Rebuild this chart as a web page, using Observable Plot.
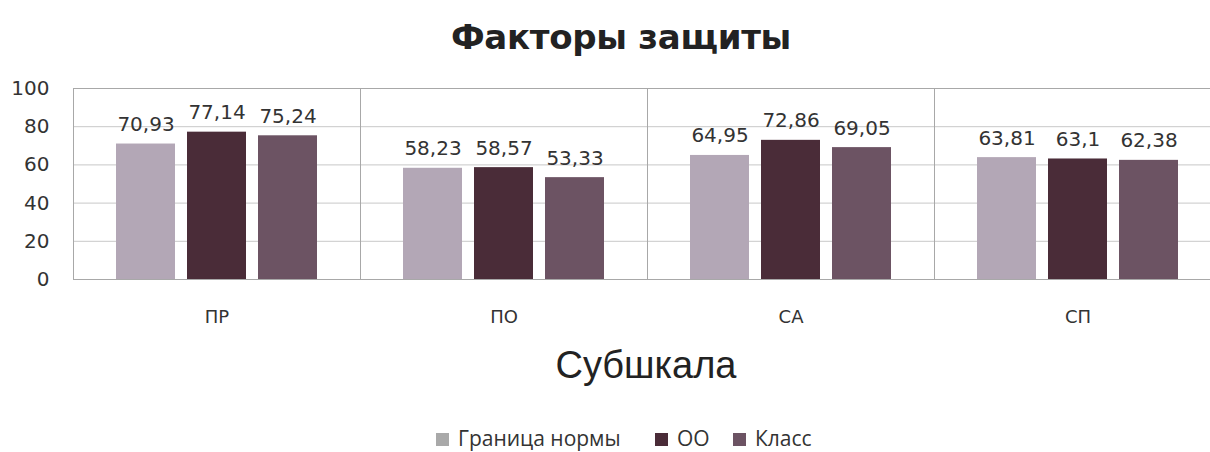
<!DOCTYPE html>
<html><head><meta charset="utf-8">
<script src="https://cdn.jsdelivr.net/npm/d3@7"></script>
<script src="https://cdn.jsdelivr.net/npm/@observablehq/plot@0.6"></script>
<style>
body{margin:0;background:#fff;width:1210px;height:452px;overflow:hidden;position:relative;font-family:"DejaVu Sans",sans-serif}
#title{position:absolute;left:0;top:0;width:1210px;height:75px;line-height:75px;text-align:center;padding-left:32px;box-sizing:border-box;font-weight:bold;font-size:34px;font-family:"DejaVu Sans";color:#222;letter-spacing:-0.3px}
#chart{position:absolute;left:0;top:75px}
#xlabel{position:absolute;left:0;top:339px;width:1210px;height:52px;line-height:52px;text-align:center;padding-left:82px;box-sizing:border-box;font-size:38px;font-family:"Liberation Sans";color:#222}
#legend{position:absolute;left:0;top:424px;width:1210px;height:28px;font-family:"Open Sans";font-size:21px;color:#333}
.item{position:absolute;top:0;height:28px;line-height:28px;white-space:nowrap}
.sw{display:inline-block;width:13px;height:13px;margin-right:9px;vertical-align:0px}
</style></head><body>
<div id="title">Факторы защиты</div>
<div id="chart"></div>
<div id="xlabel">Субшкала</div>
<div id="legend"></div>
<script>
const categories = ["ПР", "ПО", "СА", "СП"];
const series = ["Граница нормы", "ОО", "Класс"];
const granica = [70.93, 58.23, 64.95, 63.81];
const oo = [77.14, 58.57, 72.86, 63.1];
const klass = [75.24, 53.33, 69.05, 62.38];
const yTicks = [0, 20, 40, 60, 80, 100];
const colors = ["#b3a7b6", "#4a2c38", "#6c5363"];
const legendColors = ["#a9a9a9", "#4a2c38", "#6c5363"];

const values = [granica, oo, klass];
const data = categories.flatMap((c, i) => series.map((s, j) => ({cat: c, series: s, value: values[j][i]})));
const fmt = v => String(v).replace(".", ",");

const chart = Plot.plot({
  width: 1210,
  height: 264,
  marginTop: 13,
  marginBottom: 60,
  marginLeft: 72,
  marginRight: -12,
  style: {fontFamily: "DejaVu Sans", color: "#333", background: "transparent"},
  fx: {domain: categories, padding: 0},
  x: {domain: series, paddingInner: 0.163, paddingOuter: 0.596, axis: null},
  y: {domain: [0, 100]},
  color: {domain: series, range: colors},
  marks: [
    Plot.gridY(yTicks.slice(1, -1), {stroke: "#c8c8c8", strokeOpacity: 1}),
    Plot.frame({stroke: "#a8a8a8"}),
    Plot.barY(data, {fx: "cat", x: "series", y: "value", fill: "series"}),
    Plot.text(data, {fx: "cat", x: "series", y: "value", text: d => fmt(d.value), lineAnchor: "bottom", dy: -13, fontSize: 20, fill: "#333"}),
    Plot.axisY({ticks: yTicks, tickSize: 0, tickPadding: 24, fontSize: 20, label: null}),
    Plot.axisFx({anchor: "bottom", tickSize: 0, tickPadding: 31, fontSize: 18, label: null})
  ]
});
document.getElementById("chart").appendChild(chart);

const lefts = [436, 655, 733];
const legend = document.getElementById("legend");
series.forEach((s, i) => {
  const it = document.createElement("div");
  it.className = "item";
  it.style.left = lefts[i] + "px";
  it.innerHTML = `<span class="sw" style="background:${legendColors[i]}"></span>${s}`;
  legend.appendChild(it);
});
</script>
</body></html>
